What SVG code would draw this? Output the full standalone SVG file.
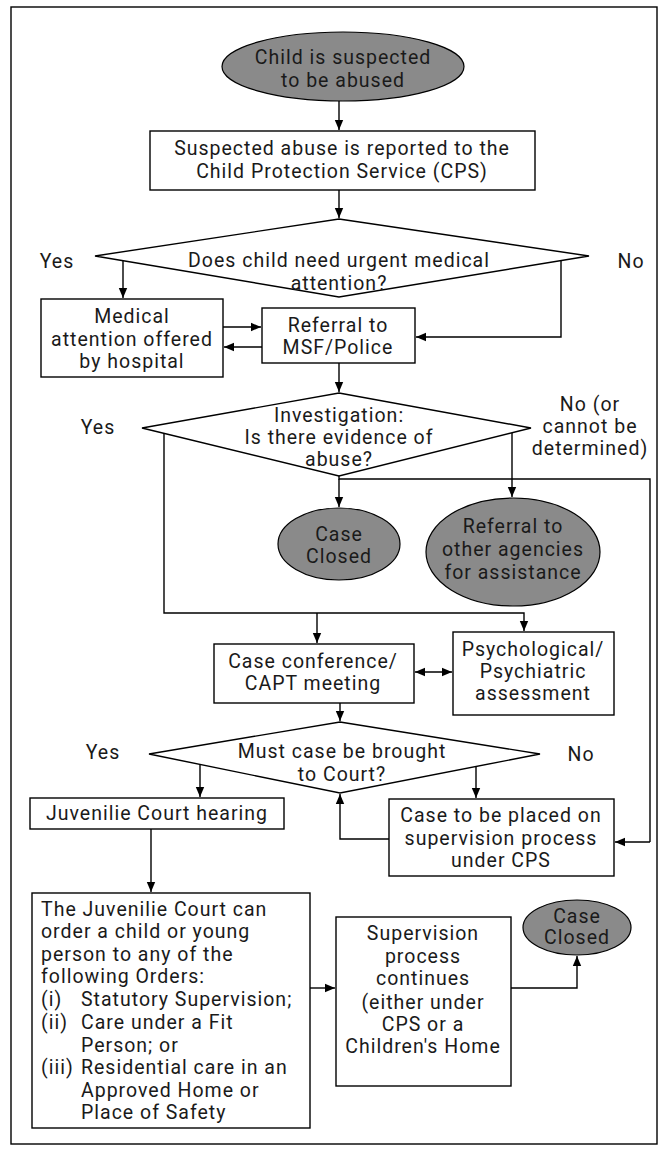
<svg xmlns="http://www.w3.org/2000/svg" width="667" height="1153" viewBox="0 0 667 1153">
<defs>
<marker id="ah" markerWidth="12" markerHeight="12" refX="10" refY="5" orient="auto-start-reverse" markerUnits="userSpaceOnUse"><path d="M0,0.8 L10,5 L0,9.2 z" fill="#000"/></marker>
</defs>
<style>
.n{fill:#fff;stroke:#000;stroke-width:1.4}
.g{fill:#8a8a8a;stroke:#000;stroke-width:1.2}
.t{font-family:Roboto,"Liberation Sans",sans-serif;font-size:19.5px;letter-spacing:1px;fill:#1a1a1a;text-anchor:middle}
.s{text-anchor:start}
.c{fill:none;stroke:#000;stroke-width:1.4}
.a{marker-end:url(#ah)}
.b{marker-start:url(#ah)}
</style>
<rect x="11" y="7" width="646" height="1137" fill="#fff" stroke="#000" stroke-width="1.4"/>
<g id="connectors">
<path class="c a" d="M339,101 V130"/>
<path class="c a" d="M339,190 V218"/>
<path class="c a" d="M123,261 V298"/>
<path class="c a" d="M561,261 V337 H416"/>
<path class="c a" d="M223,327 H261"/>
<path class="c a" d="M262,347 H224"/>
<path class="c a" d="M339,363 V392"/>
<path class="c a" d="M164,433 V613 H524 V631"/>
<path class="c a" d="M317,613 V643"/>
<path class="c a" d="M512,433 V497"/>
<path class="c" d="M339,476 V479 H650 V842"/>
<path class="c a" d="M650,842 H615"/>
<path class="c a" d="M339,479 V507"/>
<path class="c a b" d="M415,672 H452"/>
<path class="c a" d="M340,703 V721"/>
<path class="c a" d="M200,764 V797"/>
<path class="c a" d="M476,766 V798"/>
<path class="c a" d="M389,839 H340 V794"/>
<path class="c a" d="M151,829 V892"/>
<path class="c a" d="M310,988 H335"/>
<path class="c a" d="M511,988 H577 V956"/>
</g>
<g id="n1"><ellipse class="g" cx="343" cy="66.5" rx="121" ry="34.5"/>
<text class="t" x="343" y="64">Child is suspected</text><text class="t" x="343" y="87">to be abused</text></g>
<g id="n2"><rect class="n" x="150" y="131" width="385" height="59"/>
<text class="t" x="342" y="155">Suspected abuse is reported to the</text><text class="t" x="342" y="178">Child Protection Service (CPS)</text></g>
<g id="d1"><polygon class="n" points="339,219 589,256 339,297 95,256"/>
<text class="t" x="339" y="267">Does child need urgent medical</text><text class="t" x="339" y="290">attention?</text></g>
<text class="t" x="57" y="268">Yes</text>
<text class="t" x="631" y="268">No</text>
<g id="n3"><rect class="n" x="41" y="299" width="182" height="78"/>
<text class="t" x="132" y="323">Medical</text><text class="t" x="132" y="346">attention offered</text><text class="t" x="132" y="368">by hospital</text></g>
<g id="n4"><rect class="n" x="262" y="308" width="153" height="55"/>
<text class="t" x="338" y="332">Referral to</text><text class="t" x="338" y="354">MSF/Police</text></g>
<g id="d2"><polygon class="n" points="339,393 531,428 339,476 142,428"/>
<text class="t" x="339" y="422">Investigation:</text><text class="t" x="339" y="444">Is there evidence of</text><text class="t" x="339" y="466">abuse?</text></g>
<text class="t" x="98" y="434">Yes</text>
<text class="t" x="590" y="411">No (or</text>
<text class="t" x="590" y="433">cannot be</text>
<text class="t" x="590" y="455">determined)</text>
<g id="n5"><ellipse class="g" cx="339" cy="544" rx="61" ry="36"/>
<text class="t" x="339" y="541">Case</text><text class="t" x="339" y="563">Closed</text></g>
<g id="n6"><ellipse class="g" cx="513" cy="552" rx="87" ry="54"/>
<text class="t" x="513" y="533">Referral to</text><text class="t" x="513" y="556">other agencies</text><text class="t" x="513" y="579">for assistance</text></g>
<g id="n7"><rect class="n" x="214" y="644" width="200" height="59"/>
<text class="t" x="313" y="668">Case conference/</text><text class="t" x="313" y="690">CAPT meeting</text></g>
<g id="n8"><rect class="n" x="453" y="632" width="161" height="83"/>
<text class="t" x="533" y="656">Psychological/</text><text class="t" x="533" y="678">Psychiatric</text><text class="t" x="533" y="700">assessment</text></g>
<g id="d3"><polygon class="n" points="340,722 540,754 340,793 149,754"/>
<text class="t" x="342" y="758">Must case be brought</text><text class="t" x="342" y="781">to Court?</text></g>
<text class="t" x="103" y="759">Yes</text>
<text class="t" x="581" y="761">No</text>
<g id="n9"><rect class="n" x="30" y="798" width="254" height="31"/>
<text class="t" x="157" y="820">Juvenilie Court hearing</text></g>
<g id="n10"><rect class="n" x="389" y="799" width="225" height="77"/>
<text class="t" x="501" y="822">Case to be placed on</text><text class="t" x="501" y="845">supervision process</text><text class="t" x="501" y="867">under CPS</text></g>
<g id="n11"><rect class="n" x="32" y="893" width="278" height="235"/>
<text class="t s" x="41" y="916">The Juvenilie Court can</text>
<text class="t s" x="41" y="938">order a child or young</text>
<text class="t s" x="41" y="961">person to any of the</text>
<text class="t s" x="41" y="983">following Orders:</text>
<text class="t s" x="41" y="1006">(i)</text><text class="t s" x="81" y="1006">Statutory Supervision;</text>
<text class="t s" x="41" y="1029">(ii)</text><text class="t s" x="81" y="1029">Care under a Fit</text>
<text class="t s" x="81" y="1052">Person; or</text>
<text class="t s" x="41" y="1074">(iii)</text><text class="t s" x="81" y="1074">Residential care in an</text>
<text class="t s" x="81" y="1097">Approved Home or</text>
<text class="t s" x="81" y="1119">Place of Safety</text></g>
<g id="n12"><rect class="n" x="336" y="917" width="175" height="169"/>
<text class="t" x="423" y="940">Supervision</text><text class="t" x="423" y="963">process</text><text class="t" x="423" y="985">continues</text><text class="t" x="423" y="1009">(either under</text><text class="t" x="423" y="1031">CPS or a</text><text class="t" x="423" y="1053">Children's Home</text></g>
<g id="n13"><ellipse class="g" cx="577" cy="927.5" rx="54" ry="27.5"/>
<text class="t" x="577" y="923">Case</text><text class="t" x="577" y="944">Closed</text></g>
</svg>
